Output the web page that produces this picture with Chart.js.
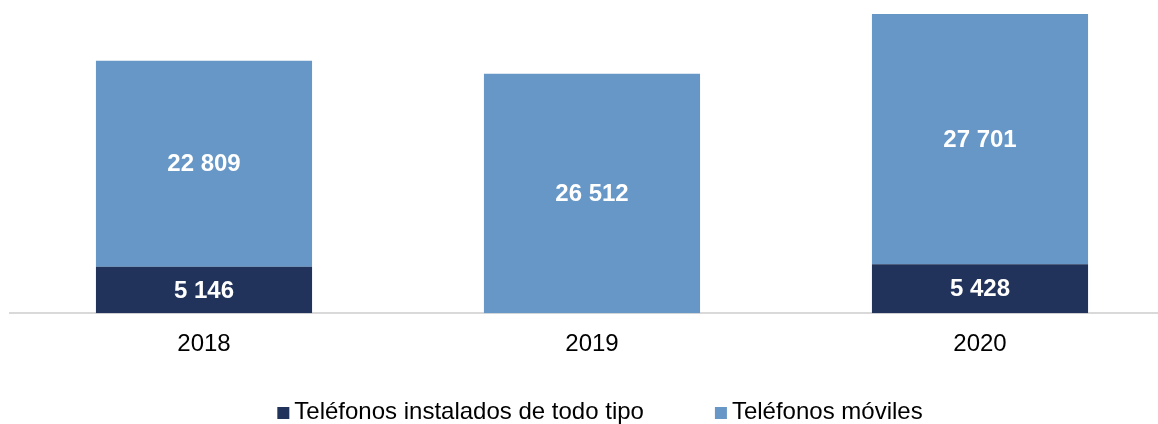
<!DOCTYPE html>
<html>
<head>
<meta charset="utf-8">
<script src="https://cdn.jsdelivr.net/npm/chart.js@4"></script>
<style>
  html, body { margin: 0; padding: 0; background: #fff; overflow: hidden; }
  .wrap { width: 1200px; height: 424px; }
</style>
</head>
<body>
<div class="wrap"><canvas id="phonesChart" width="1200" height="424"></canvas></div>
<script>
const years = ['2018', '2019', '2020'];
const instalados = [5146, null, 5428];
const moviles = [22809, 26512, 27701];
const seriesNames = ['Teléfonos instalados de todo tipo', 'Teléfonos móviles'];
const seriesColors = ['#21335B', '#6797C6'];

const fontFamily = '"Liberation Sans", Arial, sans-serif';

function fmt(v) {
  return String(v).replace(/\B(?=(\d{3})+(?!\d))/g, ' ');
}

// white value labels centred in each segment
const segmentLabels = {
  id: 'segmentLabels',
  afterDatasetsDraw(chart) {
    const ctx = chart.ctx;
    ctx.save();
    ctx.font = 'bold 24px ' + fontFamily;
    ctx.fillStyle = '#ffffff';
    ctx.textAlign = 'center';
    ctx.textBaseline = 'middle';
    chart.data.datasets.forEach((ds, i) => {
      const meta = chart.getDatasetMeta(i);
      meta.data.forEach((bar, j) => {
        const v = ds.data[j];
        if (v == null) return;
        ctx.fillText(fmt(v), bar.x, (bar.y + bar.base) / 2 + 1);
      });
    });
    ctx.restore();
  }
};

// legend along the bottom, tight box-to-text gap like the original
const bottomLegend = {
  id: 'bottomLegend',
  afterDraw(chart) {
    const ctx = chart.ctx;
    const box = 12, gap = 5, itemGap = 71;
    ctx.save();
    ctx.font = '24px ' + fontFamily;
    const items = chart.data.datasets.map(ds => ({
      text: ds.label, color: ds.backgroundColor, w: ctx.measureText(ds.label).width
    }));
    const total = items.reduce((s, it) => s + box + gap + it.w, 0) + itemGap * (items.length - 1);
    let x = chart.width / 2 - total / 2;
    const y = 413;
    ctx.textBaseline = 'middle';
    ctx.textAlign = 'left';
    items.forEach(it => {
      ctx.fillStyle = it.color;
      ctx.fillRect(x, y - box / 2, box, box);
      x += box + gap;
      ctx.fillStyle = '#000';
      ctx.fillText(it.text, x, y - 1);
      x += it.w + itemGap;
    });
    ctx.restore();
  }
};

new Chart(document.getElementById('phonesChart'), {
  type: 'bar',
  data: {
    labels: years,
    datasets: [
      { label: seriesNames[0], data: instalados, backgroundColor: seriesColors[0] },
      { label: seriesNames[1], data: moviles, backgroundColor: seriesColors[1] }
    ]
  },
  options: {
    responsive: false,
    animation: false,
    categoryPercentage: 1,
    barPercentage: 0.557,
    layout: { padding: { top: 7, left: 10, right: 26, bottom: 56 } },
    scales: {
      x: {
        stacked: true,
        grid: { display: false },
        border: { display: true, color: '#d9d9d9', width: 2 },
        ticks: { color: '#000', font: { family: fontFamily, size: 24 }, padding: 9 }
      },
      y: {
        stacked: true,
        display: false,
        min: 0,
        max: 33900
      }
    },
    plugins: {
      legend: { display: false },
      tooltip: { enabled: false }
    }
  },
  plugins: [segmentLabels, bottomLegend]
});
</script>
</body>
</html>
